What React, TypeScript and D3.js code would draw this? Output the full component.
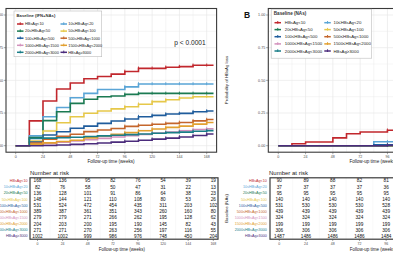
import React from "react";
import * as d3 from "d3";

// groups, in factor order (legend reads row by row)
const groups = [
  "HBsAg<10",
  "10≤HBsAg<20",
  "20≤HBsAg<50",
  "50≤HBsAg<100",
  "100≤HBsAg<500",
  "500≤HBsAg<1000",
  "1000≤HBsAg<1500",
  "1500≤HBsAg<2000",
  "2000≤HBsAg<3000",
  "HBsAg≥3000",
];

const colors = [
  "#C1272D",
  "#5AA5D6",
  "#1B7A52",
  "#E6C84A",
  "#1F5C9C",
  "#C4662C",
  "#D291BC",
  "#E2A030",
  "#1A7E88",
  "#4B2C7C",
];

// visit weeks where the curves step
const stepWeeks = [12, 24, 36, 48, 60, 72, 84, 96, 108, 120, 132, 144, 156, 168];
const lastWeek = 174;

// panel A: IFN+NAs, cumulative probability of HBsAg loss
const ifnCurves = [
  [0.19, 0.342, 0.434, 0.48, 0.512, 0.53, 0.548, 0.568, 0.592, 0.592, 0.6, 0.605, 0.615, 0.615],
  [0.075, 0.222, 0.292, 0.367, 0.4, 0.43, 0.43, 0.45, 0.472, 0.472, 0.472, 0.472, 0.472, 0.472],
  [0.063, 0.192, 0.26, 0.324, 0.355, 0.374, 0.38, 0.393, 0.4, 0.4, 0.4, 0.4, 0.4, 0.4],
  [0.035, 0.112, 0.176, 0.222, 0.248, 0.265, 0.282, 0.298, 0.317, 0.337, 0.352, 0.365, 0.375, 0.375],
  [0.028, 0.082, 0.107, 0.133, 0.15, 0.171, 0.189, 0.204, 0.222, 0.232, 0.242, 0.247, 0.26, 0.265],
  [0.02, 0.05, 0.072, 0.088, 0.108, 0.12, 0.132, 0.148, 0.156, 0.164, 0.171, 0.178, 0.19, 0.2],
  [0.008, 0.016, 0.026, 0.036, 0.046, 0.056, 0.066, 0.076, 0.086, 0.096, 0.105, 0.114, 0.124, 0.13],
  [0.012, 0.022, 0.032, 0.042, 0.06, 0.075, 0.088, 0.1, 0.114, 0.128, 0.14, 0.15, 0.165, 0.178],
  [0.055, 0.058, 0.061, 0.065, 0.07, 0.075, 0.08, 0.085, 0.09, 0.095, 0.1, 0.104, 0.11, 0.115],
  [0, 0.002, 0.005, 0.01, 0.015, 0.021, 0.027, 0.034, 0.042, 0.05, 0.058, 0.067, 0.078, 0.09],
];

// panel B: NAs (only the first ~100 weeks are in the picture)
const naWeeks = [12, 24, 36, 48, 60, 72, 84, 96];
const naCurves = [
  [0.015, 0.028, 0.028, 0.06, 0.092, 0.105, 0.105, 0.118],
  [0, 0, 0, 0, 0, 0, 0.03, 0.03],
  [0, 0, 0, 0, 0, 0, 0, 0],
  [0, 0, 0, 0, 0, 0, 0, 0],
  [0, 0, 0, 0, 0, 0, 0.006, 0.006],
  [0, 0, 0, 0, 0, 0, 0, 0],
  [0, 0, 0, 0, 0, 0, 0, 0],
  [0, 0, 0, 0, 0, 0, 0, 0],
  [0, 0, 0, 0, 0, 0, 0, 0],
  [0, 0, 0, 0, 0, 0, 0, 0.004],
];

const censorWeeks = [96, 108, 120, 132, 144, 156, 168];

// number at risk
const riskWeeks = [0, 24, 48, 72, 96, 120, 144, 168];
const ifnRisk = [
  [168, 136, 95, 82, 76, 54, 39, 19],
  [82, 76, 58, 50, 47, 31, 22, 13],
  [136, 128, 101, 91, 86, 64, 38, 23],
  [148, 144, 121, 110, 108, 80, 53, 26],
  [531, 524, 472, 454, 435, 311, 203, 102],
  [389, 387, 361, 351, 343, 260, 160, 80],
  [279, 279, 271, 266, 262, 195, 128, 62],
  [204, 203, 200, 195, 190, 145, 82, 43],
  [271, 271, 270, 263, 256, 197, 116, 55],
  [1002, 1002, 999, 986, 976, 748, 450, 204],
];
const naRisk = [
  [90, 89, 88, 82, 81],
  [37, 37, 37, 37, 36],
  [95, 95, 95, 95, 95],
  [140, 140, 140, 140, 140],
  [531, 530, 530, 530, 528],
  [439, 439, 439, 439, 439],
  [324, 324, 324, 324, 324],
  [199, 199, 199, 199, 199],
  [306, 306, 306, 306, 306],
  [1487, 1486, 1486, 1486, 1484],
];

const yTicks = [0, 0.25, 0.5, 0.75, 1];
const font = "'Liberation Sans', Arial, Helvetica, sans-serif";
const axisGrey = "#4D4D4D";

const yScale = d3.scaleLinear().domain([0, 1]).range([145.7, 15]);
const rowY = d3.scalePoint().domain(groups).range([180.8, 236.2]);

function curvePoints(wk, vals) {
  const pts = [[0, 0]];
  wk.forEach((w, i) => pts.push([w, vals[i]]));
  pts.push([lastWeek, vals[vals.length - 1]]);
  return pts;
}

function valueAt(wk, vals, t) {
  let v = 0;
  wk.forEach((w, i) => {
    if (w <= t) v = vals[i];
  });
  return v;
}

const Legend = ({ x, y, w, h, title, fs, keyX, textX, rows }) => (
  <g fontFamily={font}>
    <rect x={x} y={y} width={w} height={h} fill="#fff" stroke="#BDBDBD" strokeWidth={0.6} />
    <text x={x + 2.6} y={y + 6.2} fontSize={fs + 0.3} fontWeight="bold" fill="#333">
      {title}
    </text>
    {groups.map((g, i) => {
      const col = i % 2;
      const ry = rows[Math.floor(i / 2)];
      return (
        <g key={g}>
          <line x1={keyX[col]} x2={keyX[col] + 6.5} y1={ry} y2={ry} stroke={colors[i]} strokeWidth={1.5} />
          <line x1={keyX[col] + 3.25} x2={keyX[col] + 3.25} y1={ry - 1.7} y2={ry + 1} stroke={colors[i]} strokeWidth={1} />
          <text x={textX[col]} y={ry} dy="0.35em" fontSize={fs} fill="#222">
            {g}
          </text>
        </g>
      );
    })}
  </g>
);

const KMPanel = ({ id, left, right, x, wk, curves, censor, yLabels }) => {
  const top = 8.5;
  const bottom = 152.2;
  const line = d3
    .line()
    .x((d) => x(d[0]))
    .y((d) => yScale(d[1]))
    .curve(d3.curveStepAfter);
  const vGrid = d3.range(0, 169, 12);
  const hGrid = d3.range(0, 1.01, 0.125);
  return (
    <g fontFamily={font}>
      <defs>
        <clipPath id={id}>
          <rect x={left} y={top} width={right - left} height={bottom - top} />
        </clipPath>
      </defs>
      <rect x={left} y={top} width={right - left} height={bottom - top} fill="#fff" />
      {vGrid.map((g) => (
        <line key={"v" + g} x1={x(g)} x2={x(g)} y1={top} y2={bottom} stroke="#E8E8E8" strokeWidth={g % 24 === 0 ? 0.7 : 0.4} />
      ))}
      {hGrid.map((g) => (
        <line key={"h" + g} x1={left} x2={right} y1={yScale(g)} y2={yScale(g)} stroke="#E8E8E8" strokeWidth={Math.round(g * 8) % 2 === 0 ? 0.7 : 0.4} />
      ))}
      <g clipPath={`url(#${id})`}>
        {curves.map((vals, i) => (
          <g key={groups[i]} stroke={colors[i]} fill="none">
            <path d={line(curvePoints(wk, vals))} strokeWidth={1.6} />
            {censor.map((t) => (
              <line
                key={t}
                x1={x(t)}
                x2={x(t)}
                y1={yScale(valueAt(wk, vals, t)) - 1.8}
                y2={yScale(valueAt(wk, vals, t)) + 1.2}
                strokeWidth={0.9}
              />
            ))}
          </g>
        ))}
      </g>
      <rect x={left} y={top} width={right - left} height={bottom - top} fill="none" stroke="#3A3A3A" strokeWidth={1.1} />
      {yTicks.map((t) => (
        <g key={t}>
          <line x1={left - 2.2} x2={left} y1={yScale(t)} y2={yScale(t)} stroke={axisGrey} strokeWidth={0.5} />
          <text x={left - 3} y={yScale(t)} dy="0.35em" textAnchor="end" fontSize={3.7} fill={axisGrey}>
            {yLabels ? t.toFixed(2) : ""}
          </text>
        </g>
      ))}
      {riskWeeks.map((t) => (
        <g key={t}>
          <line x1={x(t)} x2={x(t)} y1={bottom} y2={bottom + 2} stroke={axisGrey} strokeWidth={0.5} />
          <text x={x(t)} y={bottom + 5.8} textAnchor="middle" fontSize={3.6} fill={axisGrey}>
            {t}
          </text>
        </g>
      ))}
    </g>
  );
};

const RiskTable = ({ left, right, x, risk, labelX }) => {
  const top = 177.8;
  const bottom = 239.2;
  return (
    <g fontFamily={font}>
      <rect x={left} y={top} width={right - left} height={bottom - top} fill="#fff" />
      {d3.range(0, 169, 12).map((g) => (
        <line key={g} x1={x(g)} x2={x(g)} y1={top} y2={bottom} stroke="#EDEDED" strokeWidth={g % 24 === 0 ? 0.6 : 0.35} />
      ))}
      {groups.map((g, i) => (
        <g key={g}>
          <text x={labelX} y={rowY(g)} dy="0.35em" textAnchor="end" fontSize={3.7} fill={colors[i]}>
            {g}
          </text>
          {risk[i].map((v, j) => (
            <text key={j} x={x(riskWeeks[j])} y={rowY(g)} dy="0.36em" textAnchor="middle" fontSize={4.7} fill="#111">
              {v}
            </text>
          ))}
        </g>
      ))}
      <rect x={left} y={top} width={right - left} height={bottom - top} fill="none" stroke="#3A3A3A" strokeWidth={1.2} />
      {riskWeeks.map((t) => (
        <g key={t}>
          <line x1={x(t)} x2={x(t)} y1={bottom} y2={bottom + 1.8} stroke={axisGrey} strokeWidth={0.5} />
          <text x={x(t)} y={bottom + 5.6} textAnchor="middle" fontSize={3.5} fill={axisGrey}>
            {t}
          </text>
        </g>
      ))}
    </g>
  );
};

export default function App() {
  const xA = d3.scaleLinear().domain([0, 168]).range([15.7, 206.7]);
  const xB = d3.scaleLinear().domain([0, 168]).range([278.3, 469.3]);
  const xTA = d3.scaleLinear().domain([0, 168]).range([37.5, 213.3]);
  const xTB = d3.scaleLinear().domain([0, 168]).range([279.3, 466.3]);

  return (
    <svg
      width={393}
      height={262}
      style={{ position: "absolute", left: 0, top: 0, background: "#fff" }}
    >
      <rect width={393} height={262} fill="#fff" />

      {/* panel A */}
      <KMPanel id="clipA" left={6} right={216.6} x={xA} wk={stepWeeks} curves={ifnCurves} censor={censorWeeks} yLabels />
      <Legend
        x={14}
        y={11}
        w={87.7}
        h={45.7}
        title="Baseline (IFN+NAs)"
        fs={3.9}
        keyX={[17, 60.5]}
        textX={[25, 68.3]}
        rows={[24, 31.1, 38.2, 45.3, 52.3]}
      />
      <text x={190} y={42.5} dy="0.35em" textAnchor="middle" fontSize={6.6} fontFamily={font} fill="#222">
        p &lt; 0.0001
      </text>
      <text x={111} y={163.2} textAnchor="middle" fontSize={4.6} fontFamily={font} fill="#222">
        Follow-up time (weeks)
      </text>
      <text x={30} y={175} fontSize={6} fontFamily={font} fill="#222">
        Number at risk
      </text>
      <RiskTable left={30} right={218} x={xTA} risk={ifnRisk} labelX={27.6} />
      <text x={122} y={251} textAnchor="middle" fontSize={4.5} fontFamily={font} fill="#222">
        Follow-up time (weeks)
      </text>

      {/* panel B */}
      <text x={247} y={18} textAnchor="middle" fontSize={8.5} fontWeight="bold" fontFamily={font} fill="#111">
        B
      </text>
      <text
        transform="translate(227.5,80) rotate(-90)"
        textAnchor="middle"
        fontSize={4.3}
        fontFamily={font}
        fill="#222"
      >
        Probability of HBsAg loss
      </text>
      <KMPanel id="clipB" left={268.3} right={479} x={xB} wk={naWeeks} curves={naCurves} censor={censorWeeks} yLabels />
      <Legend
        x={271.2}
        y={9.2}
        w={100.5}
        h={49}
        title="Baseline (NAs)"
        fs={4.3}
        keyX={[274.5, 324.3]}
        textX={[284.8, 333.5]}
        rows={[22.7, 29.6, 36.7, 43.9, 51]}
      />
      <text x={373} y={163.2} textAnchor="middle" fontSize={4.6} fontFamily={font} fill="#222">
        Follow-up time (weeks)
      </text>
      <text x={269} y={175} fontSize={6} fontFamily={font} fill="#222">
        Number at risk
      </text>
      <text
        transform="translate(227.5,208.5) rotate(-90)"
        textAnchor="middle"
        fontSize={4.3}
        fontFamily={font}
        fill="#222"
      >
        Baseline (NAs)
      </text>
      <RiskTable left={270} right={476} x={xTB} risk={naRisk} labelX={266.8} />
      <text x={373} y={251} textAnchor="middle" fontSize={4.5} fontFamily={font} fill="#222">
        Follow-up time (weeks)
      </text>
    </svg>
  );
}
